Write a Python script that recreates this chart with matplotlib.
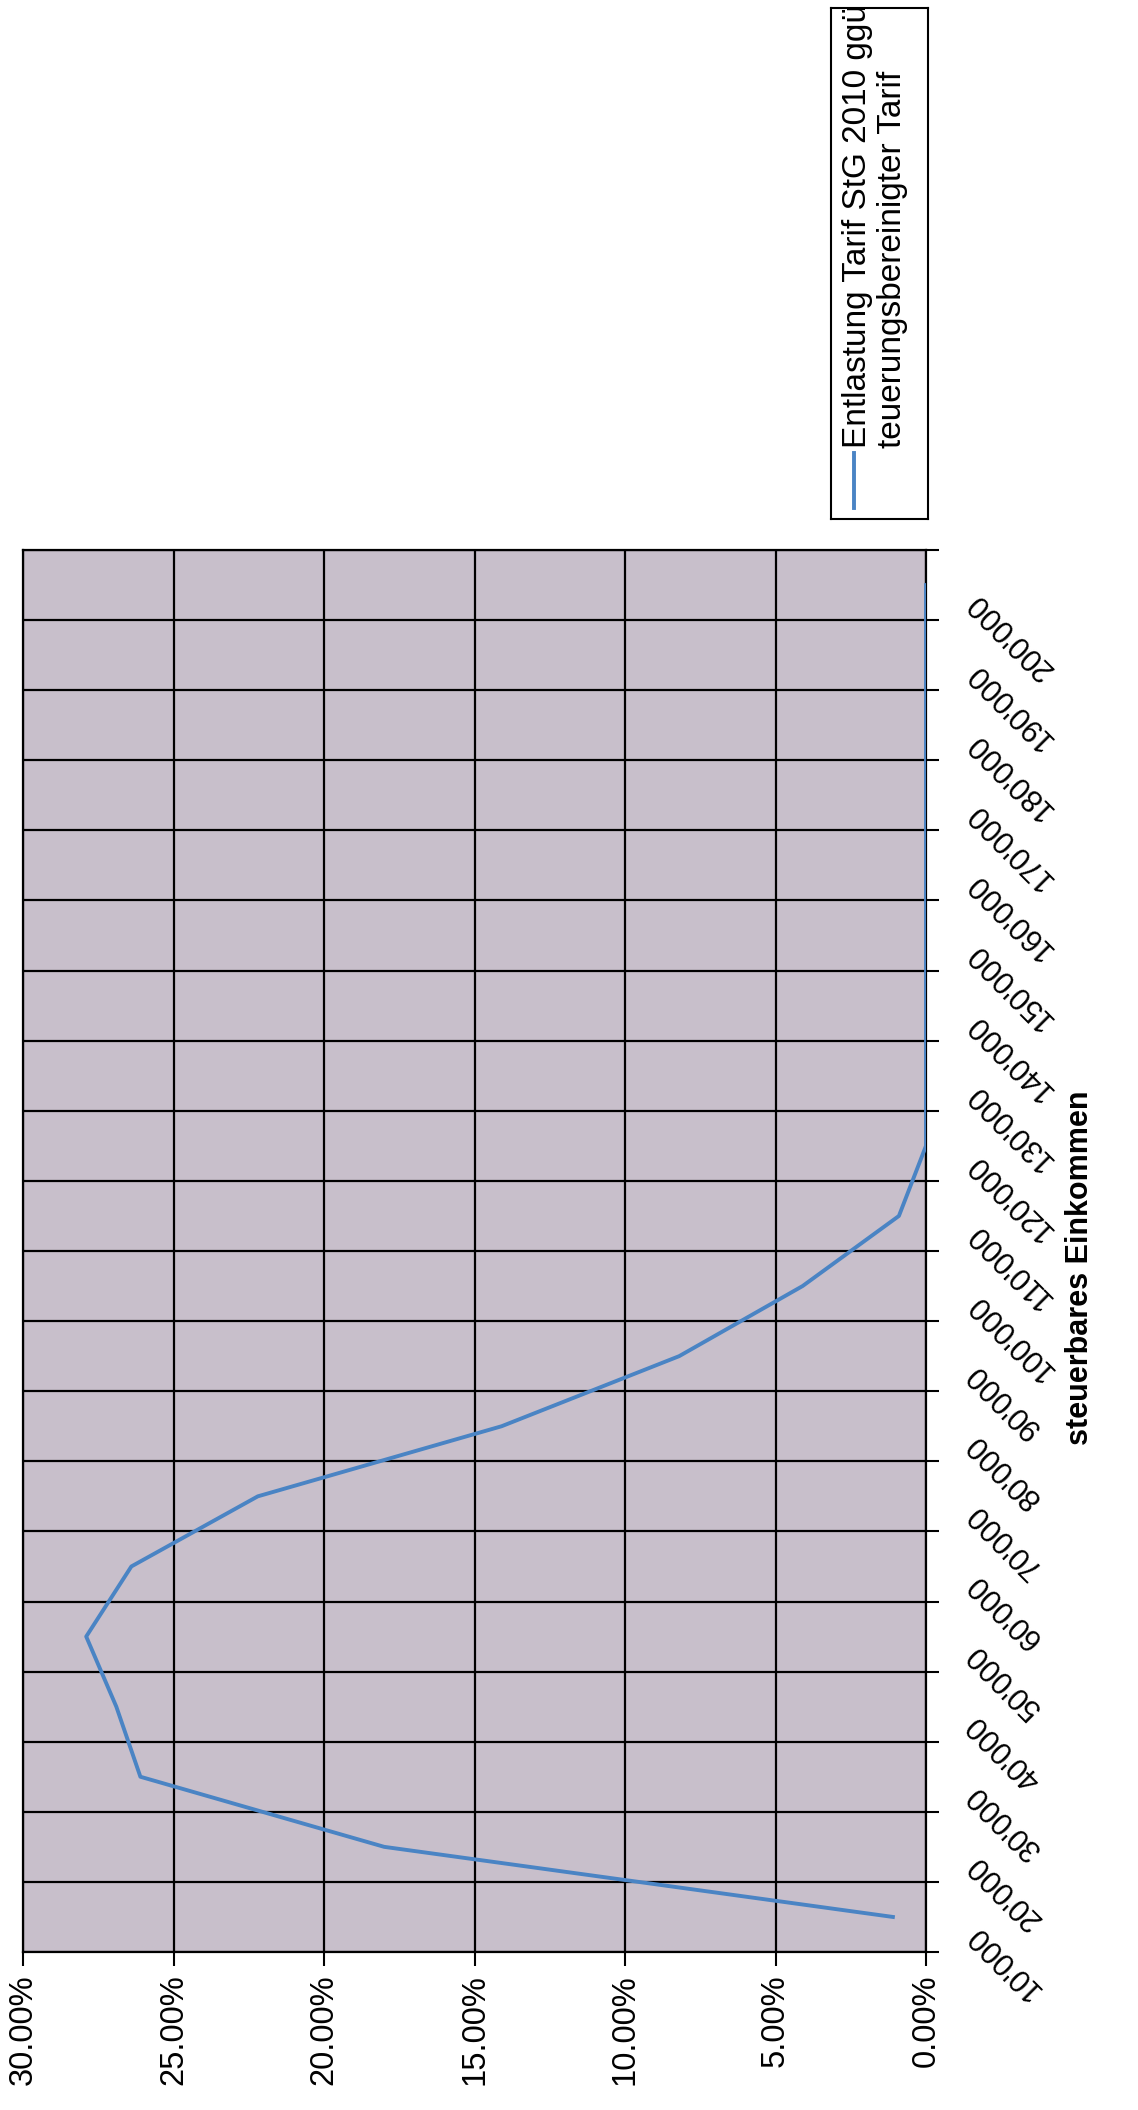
import numpy as np
import matplotlib
matplotlib.use("Agg")
import matplotlib.pyplot as plt
import matplotlib.transforms as mtransforms
from matplotlib.ticker import FuncFormatter

# ---------------- data ----------------
income = [10000, 20000, 30000, 40000, 50000, 60000, 70000, 80000, 90000, 100000,
          110000, 120000, 130000, 140000, 150000, 160000, 170000, 180000, 190000, 200000]
income_labels = [f"{v:,}".replace(",", "'") for v in income]
relief_pct = [1.1, 18.0, 26.1, 26.9, 27.9, 26.4, 22.2, 14.1, 8.2, 4.1,
              0.9, 0.0, 0.0, 0.0, 0.0, 0.0, 0.0, 0.0, 0.0, 0.0]
pct_ticks = [0, 5, 10, 15, 20, 25, 30]
legend_line1 = "Entlastung Tarif StG 2010 ggü"
legend_line2 = "teuerungsbereinigter Tarif"
axis_title = "steuerbares Einkommen"

plt.rcParams['font.family'] = ['Liberation Sans', 'DejaVu Sans']

W, H = 1138, 2110
fig = plt.figure(figsize=(W / 100, H / 100), dpi=100)
fig.patch.set_facecolor("white")

# plot area in pixels: left 23, right 926, top 550, bottom 1952
L, R, T, B = 23, 926, 550, 1952
ax = fig.add_axes([L / W, 1 - B / H, (R - L) / W, (B - T) / H])
ax.set_facecolor("#c8bfcb")

pos = np.arange(len(income))
ax.plot(relief_pct, pos, color="#4a84c4", lw=2.8, zorder=3)

ax.set_xlim(30, 0)
ax.set_ylim(-0.5, len(income) - 0.5)

# percent axis (bottom)
ax.set_xticks(pct_ticks)
ax.xaxis.set_major_formatter(FuncFormatter(lambda v, p: f"{v:.2f}%"))
ax.tick_params(axis="x", direction="out", length=10, width=1.5, pad=6,
               labelsize=23.5, labelrotation=90, colors="black")

# income axis (right)
ax.yaxis.tick_right()
ax.set_yticks(np.arange(-0.5, len(income)), labels=[""] * (len(income) + 1))
ax.set_yticks(pos, minor=True)
ax.set_yticklabels(income_labels, minor=True)
ax.tick_params(axis="y", which="major", direction="out", length=9, width=1.5,
               right=True, left=False)
ax.tick_params(axis="y", which="minor", length=0, pad=33, labelsize=22,
               right=True, left=False)
offset = mtransforms.ScaledTranslation(0, -0.12, fig.dpi_scale_trans)
for lab in ax.get_yticklabels(minor=True):
    lab.set_rotation(135)
    lab.set_rotation_mode("anchor")
    lab.set_horizontalalignment("right")
    lab.set_verticalalignment("center")
    lab.set_transform(lab.get_transform() + offset)

ax.grid(True, which="major", axis="both", color="black", lw=1.6)
ax.set_axisbelow(True)
for s in ax.spines.values():
    s.set_color("black")
    s.set_linewidth(1.6)

# axis title
fig.text(1080 / W, 1 - 1268 / H, axis_title, rotation=90, ha="center", va="center",
         fontsize=22, fontweight="bold")

# legend (rotated, drawn manually)
lx0, lx1, ly0, ly1 = 831, 928, 8, 519
lax = fig.add_axes([lx0 / W, 1 - ly1 / H, (lx1 - lx0) / W, (ly1 - ly0) / H])
lax.set_xlim(0, 1)
lax.set_ylim(0, 1)
lax.set_xticks([])
lax.set_yticks([])
for s in lax.spines.values():
    s.set_color("black")
    s.set_linewidth(1.5)
lax.plot([0.24, 0.24], [0.022, 0.13], color="#4a84c4", lw=2.8)
lax.text(0.27, 0.139, legend_line1, rotation=90, ha="center", va="bottom",
         fontsize=24, clip_on=True)
lax.text(0.63, 0.139, legend_line2, rotation=90, ha="center", va="bottom",
         fontsize=24, clip_on=True)

fig.savefig("out.png", dpi=100)
